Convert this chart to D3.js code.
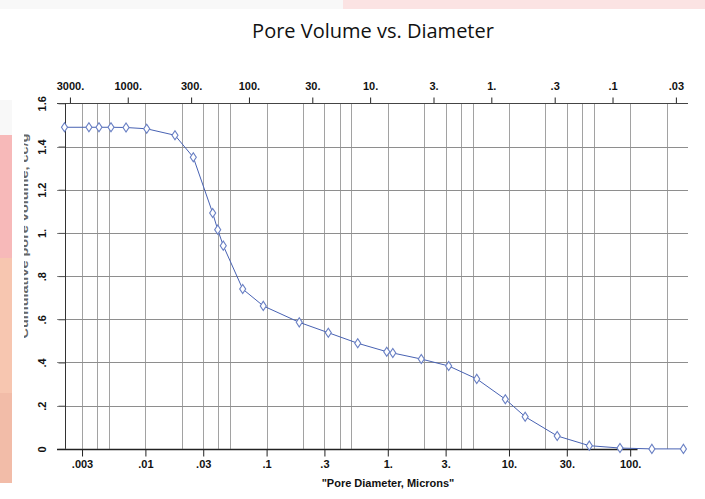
<!DOCTYPE html>
<html>
<head>
<meta charset="utf-8">
<script src="https://cdn.jsdelivr.net/npm/d3@7"></script>
<style>
  body { margin: 0; background: #fff; }
  .tick text { font-family: "Liberation Sans Narrow", "Arial Narrow", "Liberation Sans", sans-serif; font-weight: bold; font-size: 11px; fill: #111; }
</style>
</head>
<body>
<div id="chart"></div>
<script>
// pore diameter (microns) and cumulative pore volume (cc/g)
var diameters = [0.00215, 0.00342, 0.00414, 0.0052, 0.00692, 0.01025, 0.01754, 0.02484,
                 0.0359, 0.0395, 0.0439, 0.0635, 0.0939, 0.186, 0.323, 0.565, 0.98, 1.10,
                 1.89, 3.18, 5.42, 9.33, 13.6, 25.0, 46.0, 82.4, 151, 275];
var volumes = [1.489, 1.489, 1.489, 1.489, 1.488, 1.482, 1.452, 1.350,
               1.092, 1.015, 0.941, 0.740, 0.662, 0.586, 0.538, 0.489, 0.450, 0.444,
               0.416, 0.384, 0.324, 0.230, 0.149, 0.060, 0.015, 0.004, 0, 0];

var bottomTicks = [0.003, 0.01, 0.03, 0.1, 0.3, 1, 3, 10, 30, 100];
var bottomTickLabels = [".003", ".01", ".03", ".1", ".3", "1.", "3.", "10.", "30.", "100."];
var topTicks = [3000, 1000, 300, 100, 30, 10, 3, 1, 0.3, 0.1, 0.03];
var topTickLabels = ["3000.", "1000.", "300.", "100.", "30.", "10.", "3.", "1.", ".3", ".1", ".03"];
var yTicks = [0, 0.2, 0.4, 0.6, 0.8, 1.0, 1.2, 1.4, 1.6];
var yTickLabels = ["0", ".2", ".4", ".6", ".8", "1.", "1.2", "1.4", "1.6"];
var gridDiameters = [0.003, 0.004, 0.005, 0.01, 0.02, 0.03, 0.04, 0.05, 0.1, 0.2, 0.3, 0.4, 0.5,
                     1, 2, 3, 4, 5, 10, 20, 30, 40, 50, 100, 200];

var svg = d3.select("#chart").append("svg")
            .attr("width", 705)
            .attr("height", 499);

// page decoration
svg.append("rect").attr("x", 0).attr("y", 0).attr("width", 343).attr("height", 9).style("fill", "#f8f8f8");
svg.append("rect").attr("x", 343).attr("y", 0).attr("width", 362).attr("height", 9).style("fill", "#fbe3e3");
svg.append("rect").attr("x", 0).attr("y", 100).attr("width", 12).attr("height", 35).style("fill", "#f8f8f8");
svg.append("rect").attr("x", 0).attr("y", 135).attr("width", 12).attr("height", 123).style("fill", "#f7b9b9");
svg.append("rect").attr("x", 0).attr("y", 258).attr("width", 12).attr("height", 135).style("fill", "#f7c6b0");
svg.append("rect").attr("x", 0).attr("y", 393).attr("width", 12).attr("height", 90).style("fill", "#f2bca8");

var x = d3.scaleLog().domain([0.00215, 300]).range([64.5, 688]);
var y = d3.scaleLinear().domain([0, 1.6]).range([448.9, 103.3]);
// top axis is the reciprocal quantity
var xTop = d3.scaleLog().domain([7.15 / 0.00215, 7.15 / 300]).range(x.range());

svg.append("text")
   .attr("x", 373)
   .attr("y", 38)
   .attr("text-anchor", "middle")
   .style("font-family", "'Open Sans', 'Noto Sans', sans-serif")
   .style("font-size", "20px")
   .style("fill", "#111")
   .text("Pore Volume vs. Diameter");

// grid
svg.selectAll(".vgrid")
   .data(gridDiameters)
   .enter()
   .append("line")
   .attr("x1", function (d) { return Math.round(x(d)) + 0.5; })
   .attr("x2", function (d) { return Math.round(x(d)) + 0.5; })
   .attr("y1", y(1.6))
   .attr("y2", y(0))
   .style("stroke", "#a2a2a2")
   .style("stroke-width", 1);

svg.selectAll(".hgrid")
   .data(yTicks.slice(1, 8))
   .enter()
   .append("line")
   .attr("x1", 57)
   .attr("x2", 688)
   .attr("y1", function (d) { return Math.round(y(d)) + 0.5; })
   .attr("y2", function (d) { return Math.round(y(d)) + 0.5; })
   .style("stroke", "#8e8e8e")
   .style("stroke-width", 1);

// axes
var bottomAxis = d3.axisBottom(x)
                   .tickValues(bottomTicks)
                   .tickFormat(function (d, i) { return bottomTickLabels[i]; })
                   .tickSize(7)
                   .tickPadding(4);
var bottomG = svg.append("g").attr("transform", "translate(0," + (Math.round(y(0)) + 0.5) + ")").call(bottomAxis);
bottomG.select(".domain").remove();
bottomG.selectAll(".tick line").style("stroke", "#222");

var topAxis = d3.axisTop(xTop)
                .tickValues(topTicks)
                .tickFormat(function (d, i) { return topTickLabels[i]; })
                .tickSize(6)
                .tickPadding(8);
var topG = svg.append("g").attr("transform", "translate(0," + (Math.round(y(1.6)) + 0.5) + ")").call(topAxis);
topG.select(".domain").remove();
topG.selectAll(".tick line").style("stroke", "#222");

var leftAxis = d3.axisLeft(y)
                 .tickValues(yTicks)
                 .tickFormat(function (d, i) { return yTickLabels[i]; })
                 .tickSize(7);
var leftG = svg.append("g").attr("transform", "translate(" + (Math.round(x(0.00215)) + 0.5) + ",0)").call(leftAxis);
leftG.select(".domain").remove();
leftG.selectAll(".tick line").style("stroke", "#555");
leftG.selectAll(".tick text")
     .attr("transform", "rotate(-90)")
     .attr("x", 0)
     .attr("y", -20)
     .attr("dy", 0)
     .attr("text-anchor", "middle");

// axis lines
svg.append("line")
   .attr("x1", 57).attr("x2", 688)
   .attr("y1", Math.round(y(1.6)) + 0.5).attr("y2", Math.round(y(1.6)) + 0.5)
   .style("stroke", "#444");
svg.append("line")
   .attr("x1", 57).attr("x2", x(115))
   .attr("y1", Math.round(y(0)) + 0.5).attr("y2", Math.round(y(0)) + 0.5)
   .style("stroke", "#222").style("stroke-width", 1.5);
svg.append("line")
   .attr("x1", Math.round(x(0.00215)) + 0.5).attr("x2", Math.round(x(0.00215)) + 0.5)
   .attr("y1", y(1.6)).attr("y2", y(0))
   .style("stroke", "#333");

// axis titles
svg.append("text")
   .attr("x", 388)
   .attr("y", 487)
   .attr("text-anchor", "middle")
   .style("font-family", "'Liberation Sans Narrow', 'Arial Narrow', 'Liberation Sans', sans-serif")
   .style("font-weight", "bold")
   .style("font-size", "11px")
   .style("fill", "#111")
   .text("\"Pore Diameter, Microns\"");

svg.append("clipPath").attr("id", "ytitleclip")
   .append("rect").attr("x", 24).attr("y", 100).attr("width", 12).attr("height", 300);

svg.append("g")
   .attr("clip-path", "url(#ytitleclip)")
   .append("text")
   .attr("transform", "translate(28,236) rotate(-90)")
   .attr("text-anchor", "middle")
   .attr("textLength", 205)
   .attr("lengthAdjust", "spacingAndGlyphs")
   .style("font-family", "'Liberation Sans', Arial, sans-serif")
   .style("font-weight", "bold")
   .style("font-size", "11px")
   .style("fill", "#666")
   .text("Cumulative pore volume, cc/g");

// data
var points = diameters.map(function (d, i) { return { "d": d, "v": volumes[i] }; });

var line = d3.line()
             .x(function (p) { return x(p.d); })
             .y(function (p) { return y(p.v); });

svg.append("path")
   .datum(points)
   .attr("d", line)
   .style("fill", "none")
   .style("stroke", "#4862b3")
   .style("stroke-width", 1);

svg.selectAll(".marker")
   .data(points)
   .enter()
   .append("path")
   .attr("d", d3.symbol().type(d3.symbolDiamond).size(24))
   .attr("transform", function (p) { return "translate(" + x(p.d) + "," + y(p.v) + ") scale(1.15,1)"; })
   .style("fill", "#fff")
   .style("stroke", "#6a80c4")
   .style("stroke-width", 1);
</script>
</body>
</html>
